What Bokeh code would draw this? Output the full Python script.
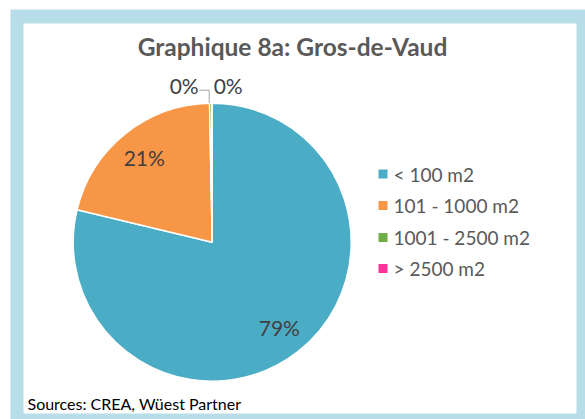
import math
from bokeh.plotting import figure
from bokeh.models import Range1d
from bokeh.core.properties import value
from bokeh.embed import file_html
from bokeh.resources import INLINE

# ---- data ----
title_text = "Graphique 8a: Gros-de-Vaud"
source_text = "Sources: CREA, Wüest Partner"
categories = ["< 100 m2", "101 - 1000 m2", "1001 - 2500 m2", "> 2500 m2"]
shares = [78.75, 20.95, 0.25, 0.05]
labels = ["79%", "21%", "0%", "0%"]
colors = ["#4BACC6", "#F79646", "#70AD47", "#FF3399"]

W, H = 585, 419
FONT = "Lato"
OFF = 0

def X(px):
    return px - OFF

def Y(py):
    return H - (py - OFF)

p = figure(width=W, height=H, output_backend="svg", toolbar_location=None,
           x_range=Range1d(0, W), y_range=Range1d(0, H), min_border=0)
p.axis.visible = False
p.grid.visible = False
p.outline_line_color = None
p.background_fill_color = "white"
p.border_fill_color = "white"

# frame
p.quad(left=X(10), right=X(586), bottom=Y(420), top=Y(9), fill_color="#B7DDE8", line_color=None)
p.quad(left=X(23), right=X(576), bottom=Y(413), top=Y(23), fill_color="white", line_color=None)

# title
p.text(x=[X(292)], y=[Y(46)], text=[title_text], text_font=value(FONT), text_font_style="bold",
       text_font_size="24.5px", text_color="#595959", text_align="center", text_baseline="middle")

# pie
cx, cy, R = X(211.7), Y(241.7), 139
total = sum(shares)
cum = 0.0
starts, ends, mids = [], [], []
for s in shares:
    f0 = cum / total
    cum += s
    f1 = cum / total
    starts.append(math.pi / 2 - 2 * math.pi * f0)
    ends.append(math.pi / 2 - 2 * math.pi * f1)
    mids.append((f0 + f1) / 2)

p.wedge(x=cx, y=cy, radius=R, start_angle=starts, end_angle=ends, direction="clock",
        fill_color=colors, line_color="white", line_width=1.5)

# inside labels for large slices
lx, ly, lt = [], [], []
for i in range(2):
    a = 2 * math.pi * mids[i]
    lx.append(cx + 0.78 * R * math.sin(a))
    ly.append(cy + 0.78 * R * math.cos(a))
    lt.append(labels[i])
p.text(x=lx, y=ly, text=lt, text_font=value(FONT), text_font_size="21px",
       text_color="#404040", text_align="center", text_baseline="middle")

# outside labels for tiny slices
top_y = cy + R
p.text(x=[cx - 28, cx + 16], y=[top_y + 18, top_y + 18], text=[labels[2], labels[3]],
       text_font=value(FONT), text_font_size="21px", text_color="#404040",
       text_align="center", text_baseline="middle")
# leader line
p.line(x=[cx - 13, cx - 3, cx - 3], y=[top_y + 13, top_y + 13, top_y], line_color="#A6A6A6", line_width=1)

# legend
leg_y = [173.5, 205, 237, 268]
p.rect(x=[X(382.5)] * 4, y=[Y(v) for v in leg_y], width=9, height=9, fill_color=colors, line_color=None)
p.text(x=[X(393)] * 4, y=[Y(v) for v in leg_y], text=categories, text_font=value(FONT),
       text_font_size="19px", text_color="#595959", text_align="left", text_baseline="middle")

# source
p.text(x=[X(27)], y=[Y(403)], text=[source_text], text_font=value(FONT), text_font_size="16px",
       text_color="#000000", text_align="left", text_baseline="middle")

open("out.html", "w").write(file_html(p, INLINE))
